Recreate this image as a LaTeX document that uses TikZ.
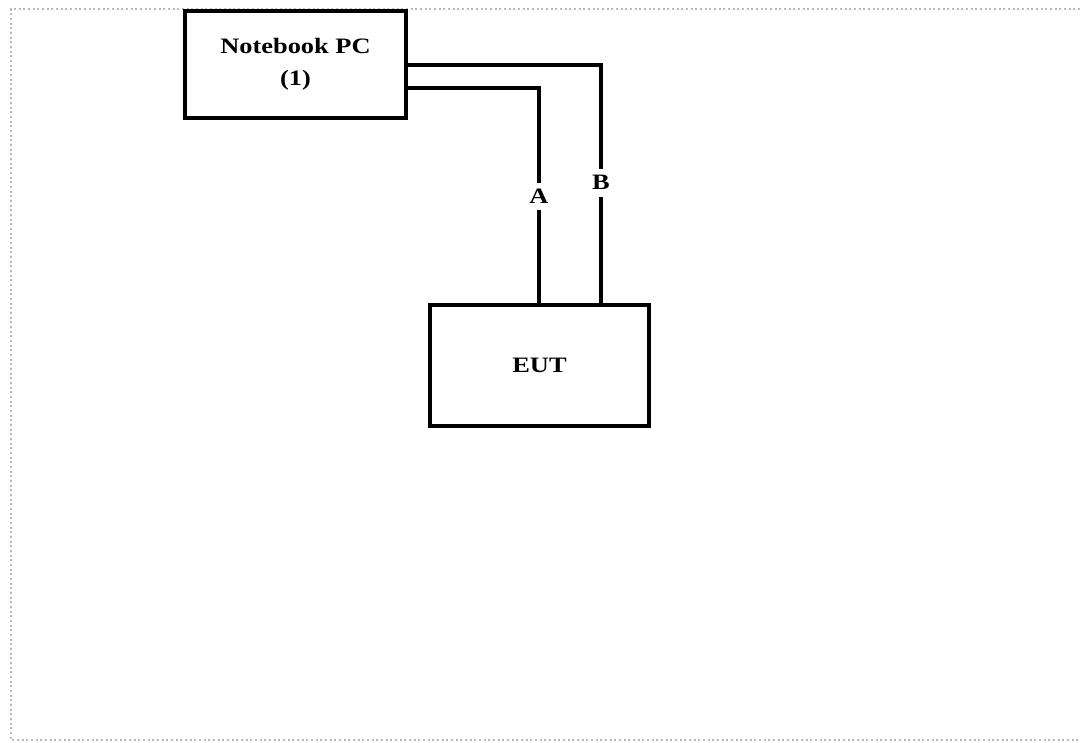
\documentclass[tikz,border=0pt]{standalone}
\usepackage{fontspec}
\setmainfont{Liberation Serif}[FakeStretch=1.2]
\begin{document}
\begin{tikzpicture}[x=0.75pt,y=-0.75pt,
  box/.style={draw=black,line width=2.6pt,inner sep=0pt,font=\bfseries\fontsize{16.5}{24}\selectfont,align=center},
  wire/.style={line width=2.8pt,black},
  lbl/.style={fill=white,inner xsep=2pt,inner ysep=5pt,font=\bfseries\fontsize{16.5}{18}\selectfont},
  frame/.style={gray!55,line width=1.5pt,dotted}]
\useasboundingbox (0,0) rectangle (1080,742);
\draw[frame] (1080,9) -- (11,9) -- (11,740) -- (1080,740);
\node[box,minimum width=221*0.75pt,minimum height=107*0.75pt] (pc) at (295.5,64.5) {Notebook PC\\(1)};
\node[box,minimum width=219*0.75pt,minimum height=121*0.75pt] (eut) at (539.5,365.5) {EUT};
\coordinate (ab) at (539,305);
\coordinate (bb) at (601,305);
\draw[wire] (pc.east |- 0,88) -| (ab) node[lbl,pos=0.75] {A};
\draw[wire] (pc.east |- 0,65) -| (bb) node[lbl,pos=0.745] {B};
\end{tikzpicture}
\end{document}
